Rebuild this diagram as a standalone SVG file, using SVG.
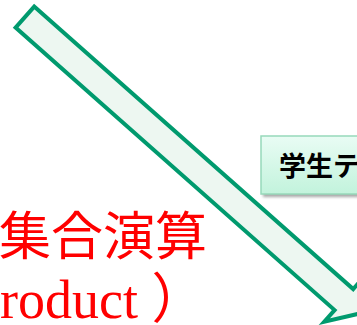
<svg xmlns="http://www.w3.org/2000/svg" width="357" height="325" viewBox="0 0 357 325">
  <defs>
    <linearGradient id="boxGrad" x1="0" y1="0" x2="0" y2="1">
      <stop offset="0" stop-color="#e9fcf4"/>
      <stop offset="1" stop-color="#c2f3dc"/>
    </linearGradient>
    <filter id="shadow" x="-20%" y="-20%" width="140%" height="160%">
      <feGaussianBlur stdDeviation="1.5"/>
    </filter>
    <style>
      .blockArrow { fill: #edf7f1; stroke: #009a6e; stroke-width: 4; stroke-linejoin: miter; }
      .box { fill: url(#boxGrad); stroke: #97d9ba; stroke-width: 1.5; }
      .boxShadow { fill: #000; opacity: 0.35; }
      .label { font-family: "Noto Sans CJK JP", sans-serif; font-weight: bold; font-size: 27px; fill: #000; }
      .red { fill: #ff0000; }
      .cjk { font-family: "Noto Sans CJK JP", sans-serif; font-size: 52px; }
      .serif { font-family: "Liberation Serif", "Noto Sans CJK JP", serif; font-size: 54px; }
    </style>
  </defs>

  <g id="connectors">
    <polygon class="blockArrow" points="34.2,6.6 353.2,289.1 363.5,277.5 359.7,313.5 324.3,321.7 334.6,310.1 15.6,27.6"/>
  </g>

  <g id="node-student-table">
    <rect class="boxShadow" x="263" y="139" width="120" height="58" filter="url(#shadow)"/>
    <rect class="box" x="261" y="136" width="120" height="58"/>
    <text class="label" x="279" y="176">学生テ</text>
  </g>

  <g id="label-set-operation">
    <text class="cjk red" x="-1" y="255">集合演算</text>
  </g>

  <g id="label-product">
    <text class="serif red" x="0" y="318">roduct ）</text>
  </g>
</svg>
